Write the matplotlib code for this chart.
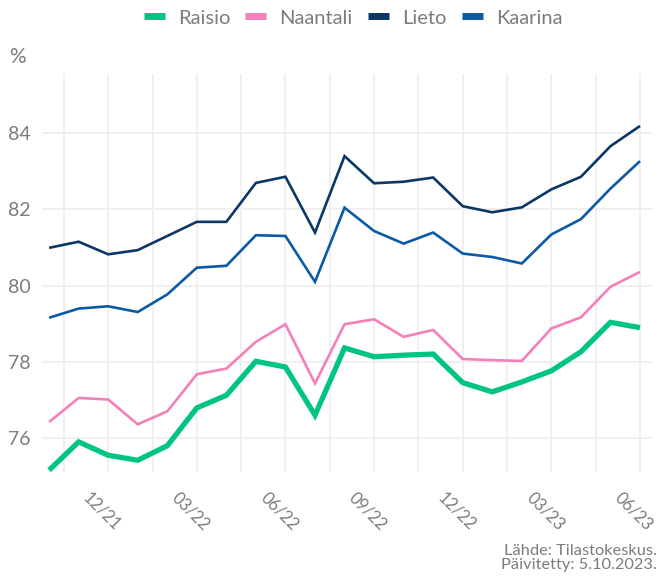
import matplotlib
matplotlib.use("Agg")
import matplotlib.pyplot as plt
from matplotlib.ticker import FixedLocator
from matplotlib.transforms import ScaledTranslation, blended_transform_factory

months = ["10/21", "11/21", "12/21", "01/22", "02/22", "03/22", "04/22", "05/22", "06/22",
          "07/22", "08/22", "09/22", "10/22", "11/22", "12/22", "01/23", "02/23", "03/23",
          "04/23", "05/23", "06/23"]

raisio = [75.17, 75.91, 75.56, 75.43, 75.81, 76.80, 77.13, 78.02, 77.87, 76.61, 78.37,
          78.14, 78.18, 78.21, 77.46, 77.22, 77.48, 77.77, 78.27, 79.04, 78.90]
naantali = [76.43, 77.06, 77.02, 76.37, 76.71, 77.68, 77.83, 78.53, 78.99, 77.44, 78.99,
            79.12, 78.66, 78.84, 78.08, 78.05, 78.03, 78.88, 79.17, 79.97, 80.36]
lieto = [80.99, 81.15, 80.82, 80.93, 81.30, 81.67, 81.67, 82.69, 82.85, 81.39, 83.39,
         82.68, 82.72, 82.83, 82.08, 81.92, 82.05, 82.52, 82.85, 83.65, 84.18]
kaarina = [79.16, 79.40, 79.46, 79.31, 79.77, 80.47, 80.52, 81.32, 81.30, 80.10, 82.04,
           81.43, 81.10, 81.39, 80.84, 80.75, 80.58, 81.34, 81.74, 82.54, 83.26]

tick_labels = ["12/21", "03/22", "06/22", "09/22", "12/22", "03/23", "06/23"]
y_ticks = [76, 78, 80, 82, 84]

series = [("Raisio", raisio, "#00c483", 3.8),
          ("Naantali", naantali, "#f57fb9", 1.9),
          ("Lieto", lieto, "#0b3766", 1.9),
          ("Kaarina", kaarina, "#0a5aa6", 1.9)]

plt.rcParams['font.family'] = ['Lato', 'DejaVu Sans']
txt = "#7c7c7c"

fig = plt.figure(figsize=(6.6, 5.79), dpi=100)
ax = fig.add_axes([42 / 660, 1 - 471.7 / 579, 611 / 660, (471.7 - 74) / 579])

x = list(range(len(months)))
for name, vals, col, lw in [series[1], series[3], series[2], series[0]]:
    ax.plot(x, vals, color=col, lw=lw, solid_joinstyle='miter', solid_capstyle='butt', zorder=3)

ax.set_xlim(-0.24, 20.44)
ax.set_ylim(75.13, 85.54)

major_x = [months.index(t) for t in tick_labels]
ax.set_xticks(major_x)
ax.set_xticklabels([])
base = blended_transform_factory(ax.transData, ax.transAxes)
off = ScaledTranslation(-6 / 100, -18 / 100, fig.dpi_scale_trans)
for m, lab in zip(major_x, tick_labels):
    ax.text(m, 0, lab, transform=base + off, rotation=-45, ha='center', va='top',
            fontsize=12, color=txt, clip_on=False)
ax.xaxis.set_minor_locator(FixedLocator([m - 1.5 for m in major_x]))
ax.set_yticks(y_ticks)
ax.set_yticklabels([str(v) for v in y_ticks], fontsize=14, color=txt)
ax.tick_params(axis='both', which='both', length=0)
ax.tick_params(axis='y', pad=8)

ax.grid(True, which='major', color='#efefef', lw=1.3, zorder=0)
ax.grid(True, which='minor', axis='x', color='#efefef', lw=1.3, zorder=0)
for s in ax.spines.values():
    s.set_visible(False)

leg_h = [plt.Line2D([], [], color=c, lw=5, solid_capstyle='butt') for _, _, c, _ in series]
fig.legend(leg_h, [n for n, _, _, _ in series], loc='center', bbox_to_anchor=(353 / 660, 1 - 18 / 579),
           ncol=4, frameon=False, handlelength=1.05, handletextpad=0.65, columnspacing=0.75,
           prop={'size': 14.5}, labelcolor=txt)

fig.text(9 / 660, 1 - 57 / 579, "%", fontsize=15, color=txt, va='center', ha='left')
fig.text(657 / 660, 1 - 558 / 579, "Lähde: Tilastokeskus.\nPäivitetty: 5.10.2023.", fontsize=11.8,
         color=txt, ha='right', va='center', linespacing=1.0)

fig.savefig("out.png", dpi=100, facecolor='white')
